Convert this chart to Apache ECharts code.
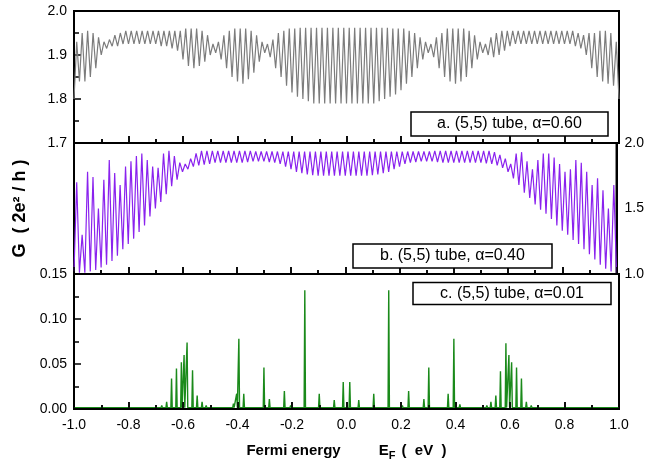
<!DOCTYPE html>
<html><head><meta charset="utf-8">
<script src="https://cdn.jsdelivr.net/npm/echarts/dist/echarts.min.js"></script>
<style>html,body{margin:0;padding:0;background:#fff}#c{width:647px;height:468px}</style>
</head><body><div id="c"></div>
<script>
// Energy grid (eV) for panels a and b
const E_START = -1.0, E_STEP = 0.01;

// Panel a: (5,5) tube, alpha=0.60 (G in 2e^2/h), sampled every 0.01 eV from -1.00 to 1.00
const gA = [
 1.80,1.93,1.84,1.95,1.84,1.955,1.85,1.95,1.87,1.94,
 1.90,1.93,1.915,1.935,1.92,1.945,1.92,1.95,1.925,1.955,
 1.925,1.955,1.925,1.955,1.925,1.955,1.925,1.955,1.925,1.955,
 1.925,1.955,1.92,1.955,1.92,1.955,1.915,1.955,1.91,1.955,
 1.89,1.96,1.875,1.96,1.87,1.96,1.875,1.955,1.885,1.945,
 1.90,1.925,1.905,1.93,1.89,1.945,1.87,1.955,1.85,1.96,
 1.84,1.96,1.835,1.96,1.845,1.955,1.86,1.945,1.885,1.93,
 1.905,1.925,1.895,1.935,1.87,1.95,1.85,1.955,1.83,1.96,
 1.815,1.96,1.805,1.962,1.80,1.962,1.795,1.962,1.79,1.962,
 1.79,1.962,1.79,1.962,1.79,1.962,1.79,1.962,1.79,1.962,
 1.79,1.962,1.79,1.962,1.79,1.962,1.79,1.962,1.79,1.962,
 1.79,1.962,1.795,1.962,1.80,1.962,1.805,1.96,1.81,1.96,
 1.82,1.96,1.835,1.955,1.85,1.95,1.87,1.94,1.89,1.93,
 1.905,1.925,1.895,1.94,1.87,1.95,1.85,1.96,1.84,1.96,
 1.835,1.96,1.84,1.96,1.85,1.955,1.87,1.945,1.89,1.93,
 1.905,1.925,1.90,1.94,1.895,1.95,1.90,1.955,1.91,1.955,
 1.92,1.955,1.925,1.955,1.925,1.955,1.925,1.955,1.925,1.955,
 1.925,1.955,1.925,1.955,1.925,1.955,1.925,1.955,1.925,1.955,
 1.925,1.955,1.925,1.955,1.92,1.95,1.915,1.945,1.90,1.95,
 1.87,1.95,1.85,1.955,1.84,1.955,1.835,1.95,1.83,1.93,
 1.80
];

// Panel b: (5,5) tube, alpha=0.40, same energy grid (right axis 1.0-2.0)
const gB = [
 1.02,1.70,1.01,1.30,1.01,1.78,1.02,1.74,1.03,1.50,
 1.05,1.72,1.07,1.87,1.10,1.77,1.14,1.68,1.19,1.82,
 1.23,1.86,1.27,1.90,1.32,1.92,1.37,1.87,1.44,1.82,
 1.50,1.81,1.55,1.92,1.61,1.94,1.67,1.90,1.72,1.85,
 1.78,1.84,1.80,1.88,1.82,1.92,1.83,1.94,1.835,1.94,
 1.84,1.94,1.85,1.94,1.85,1.94,1.85,1.94,1.85,1.94,
 1.85,1.94,1.85,1.94,1.855,1.94,1.86,1.935,1.86,1.935,
 1.86,1.935,1.855,1.935,1.85,1.935,1.84,1.935,1.82,1.935,
 1.80,1.935,1.78,1.935,1.77,1.935,1.76,1.935,1.755,1.935,
 1.75,1.935,1.75,1.935,1.75,1.935,1.75,1.935,1.75,1.935,
 1.75,1.935,1.75,1.935,1.75,1.935,1.75,1.935,1.75,1.935,
 1.755,1.935,1.76,1.935,1.77,1.935,1.78,1.935,1.80,1.935,
 1.82,1.935,1.84,1.935,1.85,1.935,1.855,1.935,1.86,1.935,
 1.86,1.935,1.86,1.94,1.855,1.94,1.85,1.94,1.85,1.94,
 1.85,1.94,1.85,1.94,1.85,1.94,1.85,1.94,1.85,1.94,
 1.85,1.94,1.845,1.94,1.84,1.93,1.83,1.91,1.81,1.88,
 1.78,1.84,1.73,1.92,1.68,1.93,1.62,1.86,1.58,1.80,
 1.53,1.87,1.49,1.92,1.46,1.92,1.42,1.89,1.37,1.84,
 1.33,1.78,1.30,1.80,1.26,1.87,1.23,1.85,1.19,1.78,
 1.15,1.68,1.11,1.73,1.07,1.64,1.04,1.50,1.02,1.68,
 1.00
];

// Panel c: (5,5) tube, alpha=0.01 — resonance peaks (energy eV, G)
const peakE = [
 -0.678,-0.660,-0.642,-0.624,-0.606,-0.596,-0.585,-0.565,-0.548,-0.530,-0.515,
 -0.480,-0.460,-0.440,-0.415,-0.403,-0.395,-0.377,-0.350,-0.330,-0.303,-0.283,
 -0.260,-0.245,-0.228,-0.205,-0.180,-0.153,-0.125,-0.100,-0.070,-0.045,-0.012,
 0.012,0.045,0.070,0.100,0.125,0.155,0.180,0.205,0.228,0.245,0.260,0.284,0.302,
 0.330,0.350,0.373,0.394,0.416,0.440,0.460,0.480,0.515,0.530,0.548,0.565,0.585,
 0.596,0.606,0.624,0.642,0.660,0.678
];
const peakG = [
 0.004,0.008,0.034,0.045,0.052,0.060,0.074,0.043,0.015,0.008,0.004,
 0.003,0.003,0.003,0.006,0.017,0.078,0.017,0.003,0.003,0.046,0.011,
 0.003,0.003,0.020,0.004,0.003,0.132,0.003,0.017,0.003,0.010,0.030,
 0.030,0.010,0.003,0.017,0.003,0.132,0.003,0.004,0.020,0.003,0.003,0.011,0.046,
 0.003,0.003,0.017,0.078,0.005,0.003,0.003,0.003,0.004,0.008,0.015,0.042,0.073,
 0.060,0.052,0.046,0.034,0.008,0.004
];
const C_BASE = 0.0015, C_HALF_WIDTH = 0.0025;

// Tick labels and panel labels
const xTicks = ['-1.0','-0.8','-0.6','-0.4','-0.2','0.0','0.2','0.4','0.6','0.8','1.0'];
const yTicksA = ['1.7','1.8','1.9','2.0'];
const yTicksB = ['1.0','1.5','2.0'];
const yTicksC = ['0.00','0.05','0.10','0.15'];
const panelLabels = ['a. (5,5) tube, α=0.60', 'b. (5,5) tube, α=0.40', 'c. (5,5) tube, α=0.01'];

const energies = gA.map((_, i) => +(E_START + i * E_STEP).toFixed(2));
const dataA = gA.map((v, i) => [energies[i], v]);
const dataB = gB.map((v, i) => [energies[i], v]);
const dataC = [[-1, C_BASE]];
peakE.forEach((e, i) => {
  dataC.push([e - C_HALF_WIDTH, C_BASE], [e, peakG[i]], [e + C_HALF_WIDTH, C_BASE]);
});
dataC.push([1, C_BASE]);

const FONT = 'Liberation Sans';
function lbl() { return {color: '#000', fontFamily: FONT, fontSize: 14}; }
function tickStyle() { return {color: '#000', width: 1.5}; }
function axisLine() { return {show: true, onZero: false, lineStyle: {color: '#000', width: 2}}; }
function xAxis(gi, showLabels) {
  const ax = {
    type: 'value', gridIndex: gi, min: -1, max: 1, interval: 0.2, z: 5,
    axisLine: axisLine(),
    axisTick: {show: true, inside: true, length: 7, lineStyle: tickStyle()},
    minorTick: {show: true, splitNumber: 2, length: 4, lineStyle: tickStyle()},
    splitLine: {show: false},
    axisLabel: showLabels ? Object.assign({margin: 9, formatter: v => xTicks[Math.round((v + 1) / 0.2)]}, lbl()) : {show: false}
  };
  if (showLabels) {
    ax.name = '{t|Fermi energy}{e|E}{s|F}{t| (  eV  )}';
    ax.nameLocation = 'middle';
    ax.nameGap = 31;
    const b = {fontSize: 15, fontWeight: 'bold', fontFamily: FONT, color: '#000', lineHeight: 22};
    ax.nameTextStyle = {rich: {
      t: b,
      e: Object.assign({}, b, {padding: [0, 0, 0, 38]}),
      s: Object.assign({}, b, {fontSize: 11, padding: [10, 2, 0, 0]})
    }};
  }
  return ax;
}
// Tick-only bottom axes (no series bound), one per panel
function tickAxis(gi) {
  return {
    type: 'value', gridIndex: gi, min: -1, max: 1, interval: 0.2, position: 'bottom',
    axisLine: {show: true, lineStyle: {color: '#000', width: 2}},
    splitLine: {show: false}, axisLabel: {show: false},
    axisTick: {show: true, inside: true, length: 7, lineStyle: tickStyle()},
    minorTick: {show: true, splitNumber: 2, length: 4, lineStyle: tickStyle()}
  };
}
const grids = [
  {left: 74, top: 11, width: 545, height: 132},
  {left: 74, top: 143, width: 545, height: 131},
  {left: 74, top: 274, width: 545, height: 135}
].map(g => Object.assign({show: true, borderColor: '#000', borderWidth: 2}, g));

function boxTitle(text, left, top, padV, padH) {
  return {text: text, left: left, top: top, padding: [padV, padH, padV, padH],
    backgroundColor: '#fff', borderColor: '#000', borderWidth: 1.5, z: 10,
    textStyle: {fontSize: 16, fontWeight: 'normal', fontFamily: FONT, color: '#000', lineHeight: 18}};
}

const option = {
  animation: false,
  backgroundColor: '#fff',
  title: [
    boxTitle(panelLabels[0], 411, 112, 3, 26),
    boxTitle(panelLabels[1], 353, 244, 3, 27),
    boxTitle(panelLabels[2], 413, 282, 2.5, 27)
  ],
  grid: grids,
  xAxis: [xAxis(0, false), xAxis(1, false), xAxis(2, true), tickAxis(0), tickAxis(1), tickAxis(2)],
  yAxis: [
    {type: 'value', gridIndex: 0, min: 1.7, max: 2.0, interval: 0.1, position: 'left',
     axisLine: axisLine(),
     axisTick: {show: true, inside: true, length: 7, lineStyle: tickStyle()},
     minorTick: {show: true, splitNumber: 2, length: 5, lineStyle: tickStyle()},
     splitLine: {show: false},
     axisLabel: Object.assign({margin: 7, formatter: v => yTicksA[Math.round((v - 1.7) / 0.1)]}, lbl())},
    {type: 'value', gridIndex: 1, min: 1.0, max: 2.0, interval: 0.5, position: 'right',
     axisLine: axisLine(), axisTick: {show: false}, splitLine: {show: false},
     axisLabel: Object.assign({margin: 8, formatter: v => yTicksB[Math.round((v - 1.0) / 0.5)]}, lbl())},
    {type: 'value', gridIndex: 2, min: 0, max: 0.15, interval: 0.05, position: 'left',
     axisLine: axisLine(),
     axisTick: {show: true, inside: true, length: 7, lineStyle: tickStyle()},
     minorTick: {show: true, splitNumber: 2, length: 5, lineStyle: tickStyle()},
     splitLine: {show: false},
     axisLabel: Object.assign({margin: 7, formatter: v => yTicksC[Math.round(v / 0.05)]}, lbl())},
    {type: 'value', gridIndex: 1, min: 1.0, max: 2.0, position: 'left',
     axisLine: axisLine(), axisTick: {show: false}, axisLabel: {show: false}, splitLine: {show: false},
     name: 'G  ( 2e² / h )', nameLocation: 'middle', nameRotate: 90, nameGap: 45,
     nameTextStyle: {fontSize: 18, fontWeight: 'bold', fontFamily: FONT, color: '#000'}}
  ],
  series: [
    {type: 'line', xAxisIndex: 0, yAxisIndex: 0, data: dataA, symbol: 'none',
     lineStyle: {color: '#7c7c7c', width: 1.2}, z: 2},
    {type: 'line', xAxisIndex: 1, yAxisIndex: 1, data: dataB, symbol: 'none',
     lineStyle: {color: '#8a22ee', width: 1.2}, z: 2},
    {type: 'line', xAxisIndex: 2, yAxisIndex: 2, data: dataC, symbol: 'none',
     lineStyle: {color: '#1a8a1a', width: 1.4}, z: 2}
  ]
};
const chart = echarts.init(document.getElementById('c'), null, {renderer: 'canvas'});
chart.setOption(option);
</script></body></html>
